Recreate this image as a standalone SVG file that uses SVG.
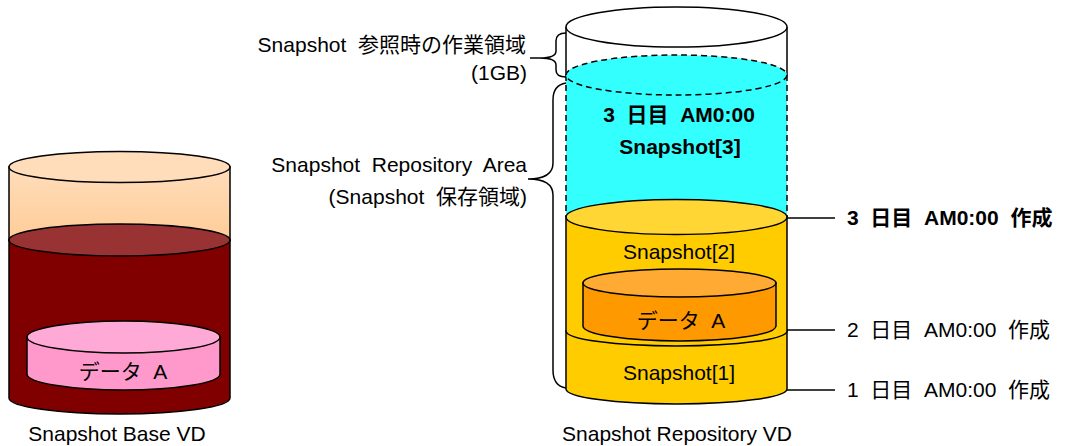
<svg xmlns="http://www.w3.org/2000/svg" width="1065" height="446" viewBox="0 0 1065 446">
<style>
text{font-family:"Liberation Sans","Noto Sans CJK JP",sans-serif;font-size:21px;fill:#000;white-space:pre}
.b{font-weight:bold}
.m{text-anchor:middle}
.r{text-anchor:end}
.o{stroke:#000;stroke-width:1.5}
.d{stroke:#000;stroke-width:1.5;stroke-dasharray:6,4}
.ln{stroke:#000;stroke-width:1.5;fill:none}
</style>
<defs>
<linearGradient id="peach" x1="0" y1="0" x2="0" y2="1">
<stop offset="0" stop-color="#FFDDBB"/>
<stop offset="1" stop-color="#FFC990"/>
</linearGradient>
</defs>
<rect width="1065" height="446" fill="#fff"/>

<g id="base-vd">
<path class="o" d="M9,167 L9,240 A110.5,16 0 0 0 230,240 L230,167 Z" fill="url(#peach)"/>
<ellipse class="o" cx="119.5" cy="167" rx="110.5" ry="15.5" fill="#FFDDBB"/>
<path class="o" d="M9,240 L9,398 A110.5,16 0 0 0 230,398 L230,240 Z" fill="#800000"/>
<ellipse class="o" cx="119.5" cy="240" rx="110.5" ry="16" fill="#993333"/>
<text class="m" x="117" y="441">Snapshot Base VD</text>
</g>

<g id="base-data-a">
<path class="o" d="M27,337 L27,374 A96.5,16 0 0 0 220,374 L220,337 Z" fill="#FF99CC"/>
<ellipse class="o" cx="123.5" cy="337" rx="96.5" ry="16" fill="#FFAAD6"/>
<text class="m" x="123" y="379">データ  A</text>
</g>

<g id="repo-work-area">
<path class="o" d="M566,27 L566,75 M787,27 L787,75" fill="none"/>
<ellipse class="o" cx="676.5" cy="27" rx="110.5" ry="20" fill="#fff"/>
</g>

<g id="repo-snapshot3">
<path d="M566,75 L566,217 L787,217 L787,75 Z" fill="#33FFFF"/>
<path class="d" d="M566,75 L566,217 M787,75 L787,217" fill="none"/>
<ellipse class="d" cx="676.5" cy="75" rx="110.5" ry="20" fill="#33FFFF"/>
<text class="m b" x="679" y="122">3  日目  AM0:00</text>
<text class="m b" x="680" y="154">Snapshot[3]</text>
</g>

<g id="repo-snapshot1">
<path class="o" d="M566,331 L566,389 A110.5,15 0 0 0 787,389 L787,331 Z" fill="#FFCC00"/>
<text class="m" x="679" y="380">Snapshot[1]</text>
</g>

<g id="repo-snapshot2">
<path class="o" d="M566,217 L566,331 A110.5,15 0 0 0 787,331 L787,217 Z" fill="#FFCC00"/>
<ellipse class="o" cx="676.5" cy="217" rx="110.5" ry="17.5" fill="#FFD633"/>
<text class="m" x="679" y="259">Snapshot[2]</text>
</g>

<g id="repo-data-a">
<path class="o" d="M583,283 L583,326 A96.5,15 0 0 0 776,326 L776,283 Z" fill="#FF9900"/>
<ellipse class="o" cx="679.5" cy="283" rx="96.5" ry="14" fill="#FFAA33"/>
<text class="m" x="681" y="328">データ  A</text>
</g>

<g id="repo-label">
<text class="m" x="677" y="441">Snapshot Repository VD</text>
</g>

<g id="left-labels">
<text class="r" x="526" y="52">Snapshot  参照時の作業領域</text>
<text class="r" x="527" y="80">(1GB)</text>
<text class="r" x="527" y="172">Snapshot  Repository  Area</text>
<text class="r" x="527" y="204">(Snapshot  保存領域)</text>
</g>

<g id="right-labels">
<text class="b" x="847" y="225">3  日目  AM0:00  作成</text>
<text x="847" y="337">2  日目  AM0:00  作成</text>
<text x="847" y="397">1  日目  AM0:00  作成</text>
</g>

<g id="connectors">
<path class="ln" d="M566,33 Q556,33 556,41 L556,51 Q556,58 540,58 Q556,58 556,65 L556,70 Q556,77 566,77"/>
<path class="ln" d="M530,58 L540,58"/>
<path class="ln" d="M566,83 Q553,85 553,100 L553,163 Q553,179 528,179 Q553,179 553,195 L553,370 Q553,386 566,388"/>
<path class="ln" d="M787,218 L835,218"/>
<path class="ln" d="M787,330 L835,330"/>
<path class="ln" d="M787,390 L835,390"/>
</g>
</svg>
